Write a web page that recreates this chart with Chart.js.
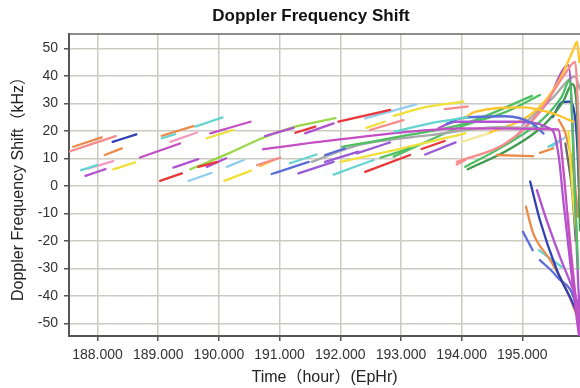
<!DOCTYPE html>
<html>
<head>
<meta charset="utf-8">
<script src="https://cdn.jsdelivr.net/npm/chart.js@4.4.1/dist/chart.umd.min.js"></script>
<style>
html, body { margin: 0; padding: 0; background: #fff; overflow: hidden; }
#wrap { width: 580px; height: 388px; }
</style>
</head>
<body>
<div id="wrap"><canvas id="dopplerChart" width="580" height="388"></canvas></div>
<script>
const chartTitle = 'Doppler Frequency Shift';
const xTitle = 'Time（hour）(EpHr)';
const yTitle = 'Doppler Frequency Shift（kHz）';

// axis ranges (hours / kHz)
const xRange = [187.53, 195.95];
const yRange = [-54.6, 55.2];

// short passes on the left, [hour, kHz]
const earlyPasses = [
    [[187.60, 14.2], [188.07, 17.6]],
    [[187.50, 12.2], [188.30, 18.1]],
    [[188.25, 16.0], [188.64, 18.7]],
    [[188.12, 11.2], [188.40, 13.6]],
    [[187.73, 5.7], [187.99, 7.5]],
    [[187.85, 6.3], [188.26, 9.0]],
    [[187.80, 3.6], [188.13, 6.1]],
    [[188.26, 6.0], [188.62, 8.5]],
    [[188.70, 10.3], [189.36, 15.4]],
    [[189.03, 1.8], [189.39, 4.5]],
    [[189.06, 18.2], [189.58, 21.7]],
    [[189.06, 17.3], [189.28, 18.8]],
    [[189.61, 21.5], [190.06, 24.9]],
    [[189.20, 16.0], [189.64, 19.4]],
    [[189.25, 6.6], [189.66, 9.7]],
    [[189.86, 19.1], [190.52, 23.3]],
    [[189.80, 17.3], [190.24, 20.3]],
    [[189.66, 6.9], [189.97, 8.7]],
    [[189.80, 6.9], [190.12, 10.0]],
    [[189.50, 1.8], [189.88, 4.7]],
    [[190.13, 6.9], [190.41, 9.4]],
    [[190.09, 1.8], [190.53, 5.5]]
];
const earlyColors = ['orange', 'salmon', 'navy', 'orange', 'cyan', 'pink', 'purple', 'yellow',
    'magenta', 'red', 'orange', 'cyan', 'cyan', 'pink', 'purple', 'magenta', 'yellow',
    'red', 'purple', 'lightblue', 'lightblue', 'yellow'];

// passes in the middle of the window
const midPasses = [
    [[190.76, 18.1], [191.23, 21.1]],
    [[190.63, 7.5], [191.01, 10.2]],
    [[190.68, 7.2], [190.93, 9.7]],
    [[190.87, 4.3], [191.48, 8.7]],
    [[191.17, 8.2], [191.61, 11.4]],
    [[191.26, 19.3], [191.59, 21.5]],
    [[191.31, 4.5], [191.89, 8.7]],
    [[191.42, 19.1], [191.89, 22.7]],
    [[191.97, 23.3], [192.82, 27.6]],
    [[192.41, 24.5], [193.25, 29.6]],
    [[193.72, 27.9], [194.10, 28.8]],
    [[192.43, 21.1], [192.73, 23.3]],
    [[192.49, 20.3], [193.04, 23.9]],
    [[192.27, 11.8], [192.82, 15.8]],
    [[192.66, 10.2], [193.15, 13.6]],
    [[191.89, 4.1], [192.55, 9.4]],
    [[192.41, 5.1], [193.15, 11.2]],
    [[193.34, 13.4], [193.72, 16.3]],
    [[193.40, 11.4], [193.90, 15.8]],
    [[193.92, 7.8], [194.06, 9.4]],
    [[191.75, 11.2], [192.08, 13.6]],
    [[191.75, 8.7], [192.30, 12.4]],
    [[194.58, 11.2], [195.18, 10.8]],
    [[195.29, 12.0], [195.51, 13.6]],
    [[194.00, 16.0], [194.44, 19.1]],
    [[192.90, 19.7], [193.50, 22.8], [194.10, 24.9]]
];
const midColors = ['purple', 'salmon', 'gold', 'blue', 'cyan', 'red', 'violet', 'purple',
    'red', 'lightblue', 'salmon', 'yellow', 'salmon', 'violet', 'green', 'cyan', 'red',
    'red', 'violet', 'salmon', 'blue', 'violet', 'orange', 'orange', 'paleyellow', 'cyan'];

// long curved passes
const longArcs = [
    [[189.53, 6.0], [190.16, 11.8], [190.71, 17.3], [191.26, 21.5], [191.92, 24.6]],
    [[190.73, 13.3], [191.89, 16.6], [194.06, 20.9], [195.59, 20.5], [195.68, 5.0], [195.78, -20.0], [195.90, -45.0], [195.96, -56.0]],
    [[192.88, 25.4], [193.40, 28.6], [194.03, 30.6]],
    [[193.75, 22.5], [194.00, 24.6], [194.72, 25.3], [195.16, 22.7], [195.35, 19.0]],
    [[193.62, 21.0], [193.90, 23.3], [194.88, 23.3], [195.49, 20.3], [195.60, 10.6], [195.68, -6.4], [195.79, -28.2], [195.90, -48.9], [195.95, -57.0]],
    [[194.03, 24.4], [194.22, 26.9], [194.99, 28.5], [195.49, 26.4], [195.84, 23.3]],
    [[192.03, 14.2], [193.00, 18.0], [194.06, 22.7], [195.16, 32.7]],
    [[192.00, 8.7], [193.00, 13.5], [194.06, 19.1]],
    [[191.53, 8.7], [192.30, 14.8], [193.48, 18.4], [194.63, 21.3], [195.45, 20.9]],
    [[192.88, 10.6], [194.06, 22.1], [194.72, 26.8], [195.29, 33.0]]
];
const arcColors = ['lime', 'magenta', 'yellow', 'blue', 'purple', 'gold', 'green', 'yellow', 'gray', 'green'];

// passes climbing to the peak at the right edge
const risingTails = [
    [[193.92, 8.7], [194.72, 15.4], [195.27, 26.4], [195.71, 40.9], [195.87, 45.1], [195.93, 20.0], [195.97, -10.0]],
    [[194.06, 6.9], [194.72, 14.8], [195.32, 23.9], [195.65, 32.4], [195.78, 38.4], [195.86, 0.0], [195.92, -30.0]],
    [[194.10, 6.0], [194.80, 13.5], [195.35, 22.0], [195.68, 31.0], [195.82, 37.0], [195.90, 27.6], [195.95, -16.2]],
    [[194.44, 19.1], [195.20, 27.0], [195.60, 38.0], [195.85, 50.0], [195.90, 52.4], [195.94, 45.0]],
    [[194.90, 18.0], [195.40, 30.0], [195.76, 43.9], [195.85, 10.0], [195.90, -25.0], [195.95, -50.0]],
    [[195.00, 22.0], [195.50, 32.0], [195.87, 39.7], [195.95, 35.0]],
    [[195.50, 25.0], [195.66, 30.4], [195.77, 30.6], [195.85, 27.6], [195.90, 16.6], [195.95, -10.0]],
    [[195.76, 20.0], [195.82, 0.0], [195.90, -20.0]]
];
const risingColors = ['salmon', 'green', 'darkgreen', 'gold', 'purple', 'gray', 'navy', 'yellow'];

// steep falling passes at the bottom right
const fallingTails = [
    [[195.71, 15.4], [195.76, 8.2], [195.82, -1.6], [195.88, -20.0]],
    [[195.60, 24.0], [195.71, 19.1], [195.84, 5.7], [195.92, -11.3]],
    [[195.43, 14.2], [195.62, 16.6]],
    [[195.49, 14.2], [195.71, 17.8]],
    [[195.13, 1.5], [195.29, -12.5], [195.57, -30.7], [195.92, -47.7], [195.97, -52.0]],
    [[195.06, -7.6], [195.18, -17.3], [195.46, -27.0], [195.73, -38.0], [195.92, -48.3]],
    [[195.01, -16.7], [195.17, -23.4]],
    [[195.24, -1.6], [195.40, -12.5], [195.62, -25.8], [195.84, -38.0], [195.95, -45.0]],
    [[195.29, -27.0], [195.57, -33.1], [195.90, -45.2], [195.95, -53.7]],
    [[195.27, -23.4], [195.65, -29.5]],
    [[195.75, -10.0], [195.85, -35.0], [195.93, -50.0]]
];
const fallingColors = ['dimgray', 'orange', 'cyan', 'lightblue', 'navy', 'orange', 'blue',
    'purple', 'blue', 'cyan', 'pink'];

const palette = {
    orange: '#ec8a48', salmon: '#f78c8c', navy: '#2f3fb5', cyan: '#64d4d0',
    pink: '#f59ac0', purple: '#b252d0', magenta: '#c44ec4', yellow: '#f0e03a',
    red: '#e8363a', lightblue: '#92cfee', lime: '#9ad84a', green: '#4ec062',
    darkgreen: '#3f9a4e', gray: '#a9a9a9', dimgray: '#6a6a6a', gold: '#ffc42e',
    blue: '#5a6cd6', violet: '#9a5ad6', paleyellow: '#f2ea9a'
};

const fontFamily = '"Liberation Sans", Arial, "Noto Sans CJK SC", sans-serif';

function toDatasets(tracks, colors) {
    return tracks.map((track, i) => ({
        data: track.map(([x, y]) => ({ x, y })),
        borderColor: palette[colors[i]],
        borderWidth: 2.3,
        borderCapStyle: 'round',
        pointRadius: 0,
        cubicInterpolationMode: 'monotone',
        fill: false
    }));
}

const datasets = [
    ...toDatasets(earlyPasses, earlyColors),
    ...toDatasets(midPasses, midColors),
    ...toDatasets(longArcs, arcColors),
    ...toDatasets(risingTails, risingColors),
    ...toDatasets(fallingTails, fallingColors)
];

// title and the top frame line
const frameAndTitle = {
    id: 'frameAndTitle',
    afterDraw(chart) {
        const { ctx, chartArea } = chart;
        ctx.save();
        ctx.strokeStyle = '#666';
        ctx.lineWidth = 1.5;
        ctx.beginPath();
        ctx.moveTo(chartArea.left, chartArea.top);
        ctx.lineTo(chartArea.right, chartArea.top);
        ctx.stroke();
        ctx.font = 'bold 17px ' + fontFamily;
        ctx.fillStyle = '#111';
        ctx.textAlign = 'center';
        ctx.textBaseline = 'middle';
        ctx.fillText(chartTitle, 311, 16);
        ctx.restore();
    }
};

new Chart(document.getElementById('dopplerChart'), {
    type: 'line',
    data: { datasets },
    plugins: [frameAndTitle],
    options: {
        responsive: false,
        animation: false,
        layout: { padding: { top: 34, right: 0, bottom: 0, left: 0 } },
        plugins: { legend: { display: false }, tooltip: { enabled: false }, title: { display: false } },
        scales: {
            x: {
                type: 'linear',
                min: xRange[0],
                max: xRange[1],
                afterFit: s => { s.height = 52; },
                ticks: {
                    stepSize: 1,
                    includeBounds: false,
                    maxRotation: 0,
                    padding: 6,
                    color: '#333',
                    font: { family: fontFamily, size: 14 },
                    callback: v => v.toFixed(3)
                },
                grid: { color: '#cdcac2', lineWidth: 1.5, tickLength: 5, tickColor: '#555' },
                border: { color: '#555', width: 2 },
                title: {
                    display: true,
                    text: xTitle,
                    color: '#222',
                    font: { family: fontFamily, size: 16 },
                    padding: { top: 0, bottom: 1 }
                }
            },
            y: {
                min: yRange[0],
                max: yRange[1],
                afterFit: s => { s.width = 69; },
                ticks: {
                    stepSize: 10,
                    includeBounds: false,
                    padding: 6,
                    color: '#333',
                    font: { family: fontFamily, size: 14 }
                },
                grid: { color: '#cdcac2', lineWidth: 1.5, tickLength: 5, tickColor: '#555' },
                border: { color: '#555', width: 2 },
                title: {
                    display: true,
                    text: yTitle,
                    color: '#222',
                    font: { family: fontFamily, size: 16 },
                    padding: { top: 9, bottom: 0 }
                }
            }
        }
    }
});
</script>
</body>
</html>
